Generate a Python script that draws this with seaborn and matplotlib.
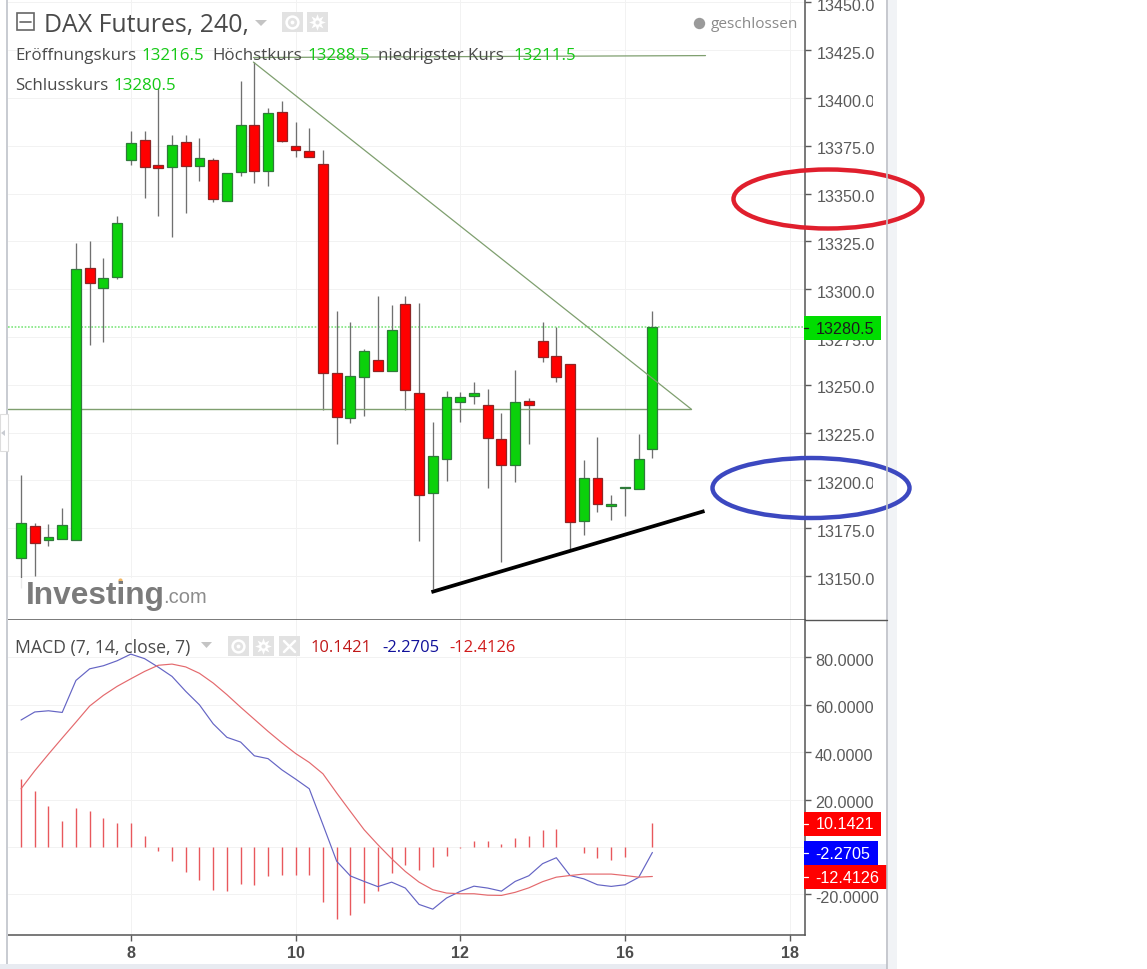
import numpy as np
import pandas as pd
import matplotlib
matplotlib.use("Agg")
import matplotlib.pyplot as plt
from matplotlib.patches import Ellipse, Rectangle, Polygon
from matplotlib.transforms import Bbox, ScaledTranslation
import seaborn as sns

# ---------- data ----------
open_px = [13159.3,13176.0,13168.7,13169.5,13168.8,13311.2,13300.8,13306.2,13367.4,13377.9,
           13365.0,13363.7,13377.1,13364.4,13367.7,13346.3,13361.1,13385.9,13361.8,13392.8,
           13374.9,13372.4,13365.5,13256.2,13232.5,13254.2,13263.1,13257.4,13292.4,13245.9,
           13193.3,13211.2,13240.8,13244.0,13239.6,13221.7,13208.1,13241.4,13272.7,13264.9,
           13260.9,13178.9,13201.1,13186.6,13196.0,13195.5,13216.5]
close_px = [13177.7,13167.1,13170.6,13176.7,13310.6,13303.2,13305.7,13334.6,13376.5,13363.7,
            13363.4,13375.6,13364.4,13368.6,13347.2,13360.6,13385.9,13361.8,13392.1,13377.7,
            13372.8,13369.1,13256.0,13233.2,13254.6,13267.8,13257.4,13278.8,13247.4,13192.2,
            13212.9,13243.5,13243.5,13245.9,13222.2,13208.1,13241.2,13239.3,13264.5,13254.2,
            13178.1,13201.1,13187.5,13187.8,13196.5,13211.2,13280.5]
high_px = [13202.8,13177.7,13177.2,13185.6,13324.2,13325.4,13316.3,13338.3,13382.9,13382.9,
           13405.2,13380.6,13380.6,13379.1,13368.6,13360.6,13408.7,13418.8,13394.8,13398.6,
           13387.6,13384.5,13372.8,13288.4,13283.0,13268.7,13296.6,13291.7,13296.6,13292.6,
           13230.4,13246.9,13246.1,13251.6,13247.8,13235.2,13257.9,13242.9,13283.0,13280.1,
           13260.9,13210.7,13222.5,13192.5,13196.5,13224.1,13288.5]
low_px = [13143.7,13150.0,13165.8,13169.5,13168.8,13270.8,13272.4,13305.3,13365.0,13347.7,
          13338.4,13327.3,13339.8,13356.6,13345.6,13346.3,13359.4,13355.5,13354.1,13376.8,
          13369.1,13369.1,13237.0,13218.9,13230.0,13233.8,13257.4,13257.4,13237.0,13168.5,
          13143.2,13199.8,13230.4,13240.0,13196.0,13157.5,13199.3,13218.9,13261.8,13251.6,
          13163.8,13171.6,13183.3,13179.4,13181.5,13195.5,13211.5]
is_up = [1,0,1,1,1,0,1,1,1,0,0,1,0,1,0,1,1,0,1,0,0,0,0,0,1,1,0,1,0,0,
         1,1,1,1,0,0,1,0,0,0,0,1,0,1,1,1,1]

macd_line = [53.6,57.0,57.5,56.8,70.3,75.2,76.5,78.6,81.4,79.5,75.9,72.0,65.7,60.0,52.0,46.3,
             44.3,38.5,37.3,32.6,28.7,24.6,9.4,-6.0,-12.2,-14.5,-16.7,-14.8,-17.3,-24.2,
             -26.2,-21.5,-18.7,-16.5,-17.3,-18.6,-14.5,-12.1,-7.0,-4.5,-12.0,-13.4,-15.9,-16.6,
             -15.9,-12.8,-2.27]
signal_line = [24.6,32.2,39.2,46.0,52.7,59.5,64.0,67.8,71.0,74.1,76.7,77.2,76.0,73.3,69.2,64.3,
               59.0,53.9,48.8,44.0,39.5,35.7,30.9,22.8,15.0,7.3,1.0,-4.9,-10.3,-14.8,
               -18.0,-19.4,-19.7,-19.7,-20.3,-20.4,-19.1,-17.2,-14.6,-12.7,-12.0,-11.4,-11.4,-11.4,
               -12.0,-12.7,-12.41]
macd_hist = [28.7,23.8,17.2,10.8,16.6,15.3,12.2,10.1,10.1,4.6,-1.8,-6.0,-10.5,-13.8,-18.1,-18.7,
             -15.6,-16.2,-12.4,-11.8,-11.8,-11.8,-23.2,-30.2,-28.8,-23.8,-18.7,-11.1,-7.5,-9.8,
             -8.6,-3.7,-0.3,2.7,2.7,1.4,3.8,4.6,7.2,7.7,0.0,-2.4,-4.8,-5.5,-4.2,0.0,10.14]

bar_index = list(range(1, 48))
date_tick_pos = [9, 21, 33, 45, 57]
date_tick_labels = ["8", "10", "12", "16", "18"]
price_ticks = [13150, 13175, 13200, 13225, 13250, 13275, 13300, 13325, 13350, 13375, 13400, 13425, 13450]
macd_ticks = [-20, 20, 40, 60, 80]
macd_grid = [-20, 0, 20, 40, 60, 80]
last_close = 13280.5
resist_x, resist_y = [17.93, 49.83], [13418.8, 13237.3]
support_x, support_y = [30.9, 50.8], [13141.6, 13184.0]
level_low_x, level_low_y = [0.05, 49.83], [13237.3, 13237.3]
level_high_x, level_high_y = [17.93, 50.87], [13421.2, 13422.2]

# ---------- styling ----------
sns.set_theme(style="white")
SANS = ["Liberation Sans", "DejaVu Sans"]
UI = ["Open Sans", "DejaVu Sans"]
plt.rcParams["font.family"] = SANS
W, H = 1147, 970
GRAY = "#5a5a5a"
GRID = "#f2f2f2"
XLIM = (0.05, 58.12)
fig = plt.figure(figsize=(W / 100, H / 100), dpi=100, facecolor="white")

def px_axes(x0, y0, x1, y1, **kw):
    return fig.add_axes([x0 / W, 1 - y1 / H, (x1 - x0) / W, (y1 - y0) / H], **kw)

ax = px_axes(8, 0, 805, 621)
ax2 = px_axes(8, 621, 805, 936)
ax.set_xlim(*XLIM); ax2.set_xlim(*XLIM)
ax.set_ylim(13127.0, 13451.8)
ax2.set_ylim(-37.1, 95.8)

for a in (ax, ax2):
    a.set_facecolor("white")
    a.set_xticks(date_tick_pos)
    a.grid(axis="x", color=GRID, lw=0.7)
    a.set_axisbelow(True)
    a.yaxis.tick_right()
    for s in ("left", "top"):
        a.spines[s].set_visible(False)
    for s in ("right", "bottom"):
        a.spines[s].set_color("#555555")
        a.spines[s].set_linewidth(1.1)

# ---------- price pane ----------
for y in price_ticks:
    ax.axhline(y, color=GRID, lw=0.7, zorder=0)
ax.set_yticks(price_ticks)
ax.set_yticklabels([f"{p:.1f}" for p in price_ticks])
ax.tick_params(axis="y", right=True, length=4, width=1, color=GRAY, labelcolor=GRAY, labelsize=11.6, pad=4.6)
ax.tick_params(axis="x", bottom=False, labelbottom=False)

df = pd.DataFrame({"i": bar_index, "o": open_px, "c": close_px, "h": high_px, "l": low_px, "up": is_up})
ax.vlines(df["i"], df["l"], df["h"], color="#707070", lw=0.95, zorder=2)
body_bottom = df[["o", "c"]].min(axis=1)
body_height = (df["c"] - df["o"]).abs()
faces = ["#0bd10b" if u else "#ff0000" for u in df["up"]]
edges = ["#2f7a3a" if u else "#8f2525" for u in df["up"]]
ax.bar(df["i"], body_height, bottom=body_bottom, width=0.72, color=faces, edgecolor=edges, linewidth=0.9, zorder=3)

ax.axhline(last_close, color="#7fe67f", lw=1.2, ls=(0, (1, 1)), zorder=1)
TREND = "#7f9f6f"
ax.plot(level_low_x, level_low_y, color=TREND, lw=1.0, zorder=2.5)
ax.plot(level_high_x, level_high_y, color=TREND, lw=0.9, zorder=4)
ax.plot(resist_x, resist_y, color=TREND, lw=0.9, zorder=4)
ax.plot(support_x, support_y, color="black", lw=2.7, zorder=5, solid_capstyle="butt")

# ---------- MACD pane ----------
for y in macd_grid:
    ax2.axhline(y, color=GRID, lw=0.7, zorder=0)
ax2.set_yticks(macd_ticks)
ax2.set_yticklabels([f"{v:.4f}" for v in macd_ticks])
ax2.tick_params(axis="y", right=True, length=4, width=1, color=GRAY, labelcolor=GRAY, labelsize=11.6, pad=3.2)
ax2.set_xticklabels(date_tick_labels, fontweight="bold")
ax2.tick_params(axis="x", bottom=True, length=4, width=1, color=GRAY, labelcolor="#4d4d4d", labelsize=11.6, pad=3.5)

ax2.vlines(bar_index, 0, macd_hist, color="#e8585c", lw=1.0, zorder=2)
macd_df = pd.DataFrame({"i": bar_index * 2,
                        "v": macd_line + signal_line,
                        "s": ["MACD"] * 47 + ["Signal"] * 47})
sns.lineplot(data=macd_df, x="i", y="v", hue="s", palette={"MACD": "#6464c4", "Signal": "#e4696d"},
             lw=0.85, ax=ax2, legend=False, zorder=3, errorbar=None)
ax2.set_xlabel(""); ax2.set_ylabel("")
ax2.set_xlim(*XLIM)

# nudge the scale labels and clip the two that the reference cuts
fig.canvas.draw()
down = ScaledTranslation(0, -1.5 / 100, fig.dpi_scale_trans)
clip = Bbox([[0, 0], [873.0, H]])
for a in (ax, ax2):
    for t in a.get_yticklabels():
        t.set_transform(t.get_transform() + down)
for t in ax.get_yticklabels():
    if t.get_text() in ("13400.0", "13200.0"):
        t.set_clip_box(clip); t.set_clip_on(True)

# ---------- chrome overlay, in pixels ----------
ov = fig.add_axes([0, 0, 1, 1], zorder=10)
ov.set_xlim(0, W); ov.set_ylim(H, 0); ov.axis("off"); ov.patch.set_alpha(0)

ov.add_patch(Rectangle((6, 0), 2, 965, color="#c9ccd2", lw=0))
ov.add_patch(Rectangle((0, 965), 887, 5, color="#e8ebf1", lw=0))
ov.add_patch(Rectangle((888, 0), 9, 970, color="#f1f3f6", lw=0))
ov.plot([887.3, 887.3], [0, 970], color="#bcbfc6", lw=1.2)
ov.plot([805, 887], [621, 621], color="#555555", lw=1.0)
ov.add_patch(Rectangle((0, 415), 8, 37, fc="white", ec="#dddddd", lw=0.8))
ov.add_patch(Polygon([[1, 434], [5, 431], [5, 437]], color="#c9ccd2", lw=0))

# watermark
ov.add_patch(Rectangle((20, 579), 203, 40, color="white", alpha=0.85, lw=0))
ov.text(26, 596, "Investing", fontsize=22.8, fontweight="bold", color="#7b7b7b", va="center", ha="left",
        family=SANS)
ov.text(163, 598, ".com", fontsize=14.5, color="#8c8c8c", va="center", ha="left", family=SANS)
ov.plot([120], [581], marker="o", ms=3, color="#f2b765", mew=0)

# header
ov.add_patch(Rectangle((16.5, 13.5), 17.5, 17.5, fc="white", ec="#666666", lw=1.2))
ov.plot([20, 31], [22.5, 22.5], color="#666666", lw=1.2)
ov.text(44, 25.5, "DAX Futures, 240,", fontsize=17.9, color="#4a4a4a", va="center", ha="left", family=UI)
ov.add_patch(Polygon([[255, 21], [267, 21], [261, 27]], color="#c4c4c4", lw=0))

def icon_box(x, y, w, h):
    ov.add_patch(Rectangle((x, y), w, h, color="#e2e2e2", lw=0))

def eye(x, y):
    icon_box(x, y, 20.5, 20.5)
    ov.plot([x + 10.2], [y + 10.2], marker="o", ms=8.5, mfc="none", mec="white", mew=1.8)
    ov.plot([x + 10.2], [y + 10.2], marker="o", ms=2.8, color="white", mew=0)

def gear(x, y):
    icon_box(x, y, 20.5, 20.5)
    ov.plot([x + 10.2], [y + 10.2], marker=(8, 1, 0), ms=12, color="white", mew=0)
    ov.plot([x + 10.2], [y + 10.2], marker="o", ms=3, color="#e2e2e2", mew=0)

eye(282, 12.5); gear(307, 12.5)
ov.plot([698.5], [23.5], marker="o", ms=8.2, color="#9a9a9a", mew=0)
ov.text(711, 24.5, "geschlossen", fontsize=11.1, color="#8a8a8a", va="center", ha="left", family=UI)

ROW = "#4a4a4a"; VAL = "#16c916"
FS = 12.2
for x, y, s, c in [(15, 56.5, "Eröffnungskurs", ROW), (141, 56.5, "13216.5", VAL),
                   (212, 56.5, "Höchstkurs", ROW), (307, 56.5, "13288.5", VAL),
                   (378, 56.5, "niedrigster Kurs", ROW), (513, 56.5, "13211.5", VAL),
                   (15, 86.5, "Schlusskurs", ROW), (113, 86.5, "13280.5", VAL)]:
    ov.text(x, y, s, fontsize=FS, color=c, va="center", ha="left", family=UI)

# MACD header
ov.text(15, 648, "MACD (7, 14, close, 7)", fontsize=12.7, color=ROW, va="center", ha="left", family=UI)
ov.add_patch(Polygon([[201, 643], [212, 643], [206.5, 649]], color="#c4c4c4", lw=0))
eye(228, 636.5); gear(253, 636.5)
icon_box(279, 636.5, 20.5, 20.5)
ov.plot([284, 295], [642, 653], color="white", lw=1.8)
ov.plot([295, 284], [642, 653], color="white", lw=1.8)
ov.text(311, 648, "10.1421", fontsize=11.9, color="#c01818", va="center", ha="left", family=UI)
ov.text(382, 648, "-2.2705", fontsize=11.9, color="#10109a", va="center", ha="left", family=UI)
ov.text(449, 648, "-12.4126", fontsize=11.9, color="#d01a1a", va="center", ha="left", family=UI)

# last value labels
for x, y, w, h, fc, tc, s in [(804, 317, 77, 24, "#00dd00", "#1c1c1c", "13280.5"),
                              (804, 812.5, 77, 24, "#ff0000", "white", "10.1421"),
                              (804, 842, 74, 24, "#0000ff", "white", "-2.2705"),
                              (804, 866, 83, 24, "#ff0000", "white", "-12.4126")]:
    ov.add_patch(Rectangle((x, y), w, h, color=fc, lw=0))
    ov.plot([x, x + 4], [y + h / 2, y + h / 2], color=tc, lw=0.9)
    ov.text(815.5, y + h / 2 + 0.5, s, fontsize=11.6, color=tc, va="center", ha="left", family=SANS)

# hand-drawn circles
ov.add_patch(Ellipse((828, 200), 189, 59, fc="none", ec="#e01f2d", lw=3.2))
ov.add_patch(Ellipse((811, 489), 197, 60, fc="none", ec="#3c48c0", lw=3.2))

fig.savefig("out.png", dpi=100, facecolor="white")
